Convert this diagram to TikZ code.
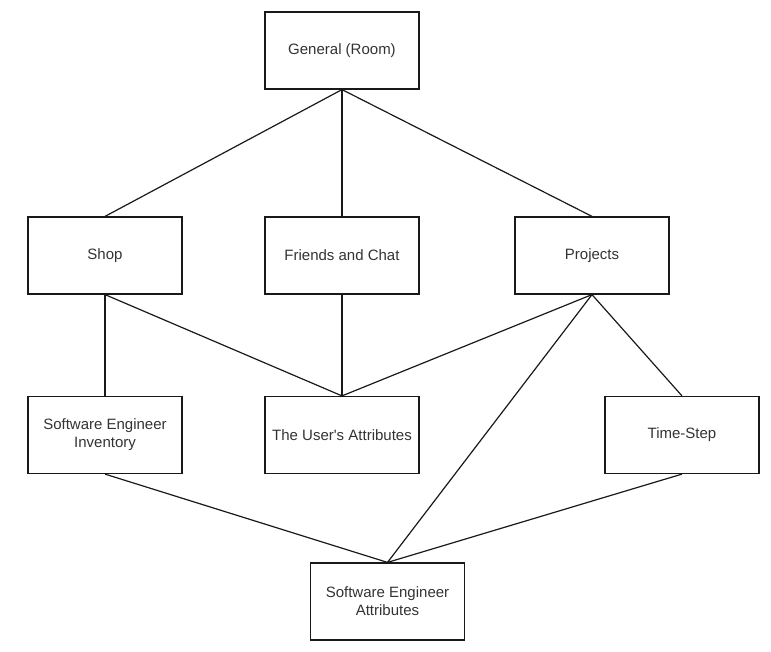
\documentclass[tikz,border=0pt]{standalone}
\usepackage{fontspec}
\setmainfont{Liberation Sans}[Ligatures=TeXOff]
\definecolor{txt}{HTML}{333333}
\begin{document}
\begin{tikzpicture}[x=1pt,y=-1pt,
  box/.style={draw=black!90, line width=1.2pt, minimum width=154pt, minimum height=77pt, inner sep=0pt, align=center, font=\fontsize{15}{18}\selectfont, text=txt},
  link/.style={draw=black!90, line width=1.2pt}]
\useasboundingbox (0,0) rectangle (771,652);
\node[box] (gen) at (342,50.5) {General (Room)};
\node[box] (shop) at (105,255.5) {Shop};
\node[box] (fri) at (342,255.5) {Friends and Chat};
\node[box] (proj) at (592,255.5) {Projects};
\node[box] (inv) at (105,435) {Software Engineer\\Inventory};
\node[box] (usr) at (342,435) {The User's Attributes};
\node[box] (ts) at (682,435) {Time-Step};
\node[box] (sea) at (387.5,601.5) {Software Engineer\\Attributes};
\draw[link] (gen.south) -- (shop.north);
\draw[link] (gen.south) -- (fri.north);
\draw[link] (gen.south) -- (proj.north);
\draw[link] (shop.south) -- (inv.north);
\draw[link] (shop.south) -- (usr.north);
\draw[link] (fri.south) -- (usr.north);
\draw[link] (proj.south) -- (usr.north);
\draw[link] (proj.south) -- (ts.north);
\draw[link] (proj.south) -- (sea.north);
\draw[link] (inv.south) -- (sea.north);
\draw[link] (ts.south) -- (sea.north);
\end{tikzpicture}
\end{document}
